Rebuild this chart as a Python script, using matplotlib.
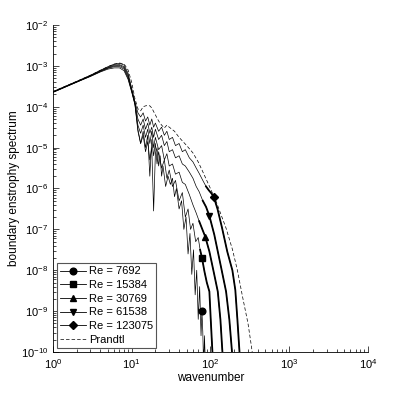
import matplotlib
matplotlib.use("Agg")
import matplotlib.pyplot as plt
from matplotlib.lines import Line2D

plt.rcParams['font.family'] = ['Liberation Sans', 'DejaVu Sans']
plt.rcParams['mathtext.fontset'] = 'custom'
plt.rcParams['mathtext.rm'] = 'Liberation Sans'

# boundary enstrophy spectra
k_7692 = [1, 2, 3, 4, 5, 6, 7, 8, 9, 10, 11, 12, 13, 14, 15, 16, 17, 18, 19, 20,
          21, 22, 23, 24, 25, 27, 29, 31, 33, 35, 37, 40, 43, 46, 49, 52, 55, 58,
          61, 64, 67, 70, 73, 76, 78, 80, 82, 84, 87]
E_7692 = [2.24e-4, 3.98e-4, 5.50e-4, 7.08e-4, 8.32e-4, 8.91e-4, 8.91e-4, 7.59e-4,
          4.68e-4, 2.29e-4, 1.12e-4, 2.51e-5, 1.26e-5, 2.0e-5, 7.94e-6, 1.41e-5,
          5.01e-6, 1.0e-5, 2.82e-7, 7.08e-6, 1.0e-5, 3.55e-6, 6.31e-6, 2.0e-6,
          3.55e-6, 1.12e-6, 2.0e-6, 1.26e-6, 1.78e-6, 6.31e-7, 1.0e-6, 3.16e-7,
          5.01e-7, 1.0e-7, 2.0e-7, 2.51e-8, 7.94e-8, 7.94e-9, 3.16e-8, 2.51e-9,
          1.0e-8, 6.31e-10, 3.98e-9, 2.51e-10, 1.02e-9, 3.16e-10, 3.98e-11,
          2.51e-10, 3.16e-11]

k_15384 = [1, 2, 3, 4, 5, 6, 7, 8, 9, 10, 11, 12, 13, 14, 15, 16, 17, 18, 19, 20,
           21, 22, 24, 26, 28, 30, 33, 36, 40, 44, 48, 52, 56, 60, 65, 70, 74, 78,
           84, 90, 97, 101, 106, 108]
E_15384 = [2.24e-4, 3.98e-4, 5.62e-4, 7.24e-4, 8.71e-4, 9.55e-4, 9.55e-4, 8.32e-4,
           5.01e-4, 2.40e-4, 1.17e-4, 2.82e-5, 1.26e-5, 2.51e-5, 1.0e-5, 2.0e-5,
           2.0e-6, 1.58e-5, 6.31e-6, 1.26e-5, 3.98e-6, 7.94e-6, 3.16e-6, 5.01e-6,
           1.78e-6, 2.82e-6, 1.12e-6, 1.58e-6, 5.01e-7, 7.94e-7, 2.0e-7, 3.16e-7,
           1.0e-7, 1.41e-7, 5.01e-8, 6.31e-8, 3.16e-8, 2.04e-8, 9.33e-9, 5.01e-9,
           3.02e-9, 6.17e-10, 1.0e-10, 3.98e-11]

k_30769 = [1, 2, 3, 4, 5, 6, 7, 8, 9, 10, 11, 12, 13, 14, 15, 16, 17, 18, 19, 20,
           22, 24, 26, 28, 30, 33, 36, 40, 44, 48, 54, 60, 66, 72, 79, 86, 97, 112,
           124, 134, 142, 145]
E_30769 = [2.29e-4, 4.07e-4, 5.62e-4, 7.41e-4, 8.91e-4, 1.0e-3, 1.02e-3, 8.91e-4,
           5.50e-4, 2.51e-4, 1.20e-4, 3.55e-5, 2.24e-5, 3.55e-5, 1.78e-5, 2.82e-5,
           1.26e-5, 2.51e-5, 1.0e-5, 1.78e-5, 8.91e-6, 1.12e-5, 5.01e-6, 7.08e-6,
           3.55e-6, 3.98e-6, 2.24e-6, 2.51e-6, 1.41e-6, 1.26e-6, 7.08e-7, 3.98e-7,
           2.51e-7, 1.58e-7, 1.0e-7, 6.61e-8, 2.88e-8, 7.76e-9, 3.02e-9, 6.17e-10,
           1.0e-10, 3.98e-11]

k_61538 = [1, 2, 3, 4, 5, 6, 7, 8, 9, 10, 11, 12, 13, 14, 15, 16, 17, 18, 19, 20,
           22, 24, 26, 28, 30, 33, 36, 40, 44, 48, 54, 60, 66, 72, 80, 88, 97, 112,
           137, 158, 174, 188, 192]
E_61538 = [2.29e-4, 4.07e-4, 5.75e-4, 7.59e-4, 9.12e-4, 1.05e-3, 1.07e-3, 9.55e-4,
           6.03e-4, 2.63e-4, 1.26e-4, 5.01e-5, 3.55e-5, 5.01e-5, 2.82e-5, 3.98e-5,
           2.24e-5, 3.16e-5, 1.78e-5, 2.82e-5, 1.58e-5, 2.0e-5, 1.12e-5, 1.41e-5,
           7.94e-6, 8.91e-6, 5.62e-6, 6.31e-6, 3.98e-6, 3.55e-6, 2.51e-6, 1.78e-6,
           1.12e-6, 8.32e-7, 5.01e-7, 3.55e-7, 2.14e-7, 7.41e-8, 1.15e-8, 3.02e-9,
           6.17e-10, 1.0e-10, 3.98e-11]

k_123075 = [1, 2, 3, 4, 5, 6, 7, 8, 9, 10, 11, 12, 13, 14, 15, 16, 17, 18, 19, 20,
            22, 24, 26, 28, 30, 33, 36, 40, 44, 48, 54, 60, 66, 72, 80, 88, 96, 103,
            110, 123, 140, 164, 190, 207, 220, 234, 240]
E_123075 = [2.34e-4, 4.17e-4, 5.89e-4, 7.76e-4, 9.55e-4, 1.10e-3, 1.15e-3, 1.05e-3,
            6.61e-4, 2.82e-4, 1.32e-4, 7.08e-5, 5.62e-5, 7.08e-5, 4.47e-5, 5.62e-5,
            3.55e-5, 5.01e-5, 3.16e-5, 3.98e-5, 2.51e-5, 3.16e-5, 2.0e-5, 2.51e-5,
            1.58e-5, 1.78e-5, 1.12e-5, 1.26e-5, 7.94e-6, 8.91e-6, 5.62e-6, 4.47e-6,
            3.16e-6, 2.34e-6, 1.58e-6, 1.12e-6, 8.91e-7, 7.59e-7, 6.31e-7, 3.16e-7,
            1.12e-7, 2.82e-8, 1.0e-8, 3.31e-9, 6.31e-10, 1.0e-10, 3.98e-11]

k_prandtl = [1, 2, 3, 4, 5, 6, 7, 8, 9, 10, 11, 12, 13, 14, 15, 16, 17, 18, 20, 22,
             24, 26, 28, 30, 35, 40, 50, 60, 70, 80, 100, 120, 140, 158, 191, 220,
             256, 300, 327, 345]
E_prandtl = [2.34e-4, 4.17e-4, 5.89e-4, 7.76e-4, 9.55e-4, 1.10e-3, 1.17e-3, 1.12e-3,
             7.94e-4, 3.98e-4, 1.58e-4, 8.91e-5, 7.94e-5, 1.0e-4, 1.05e-4, 1.07e-4,
             1.05e-4, 9.33e-5, 6.31e-5, 4.47e-5, 3.55e-5, 3.02e-5, 3.55e-5, 3.16e-5,
             2.51e-5, 1.78e-5, 1.12e-5, 7.41e-6, 4.47e-6, 2.57e-6, 1.0e-6, 4.47e-7,
             2.0e-7, 1.07e-7, 3.16e-8, 1.0e-8, 2.24e-9, 5.01e-10, 1.66e-10, 7.94e-11]

labels = ["Re = 7692", "Re = 15384", "Re = 30769", "Re = 61538", "Re = 123075"]
k_all = [k_7692, k_15384, k_30769, k_61538, k_123075]
E_all = [E_7692, E_15384, E_30769, E_61538, E_123075]
marker_k = [78, 78, 86, 97, 110]     # where the symbol sits on each curve
tail_k = [None, 74, 72, 80, 88]      # dense high-k part drawn heavier
markers = ['o', 's', '^', 'v', 'D']

fig = plt.figure(figsize=(4.07, 3.96), dpi=100)
ax = fig.add_axes([0.130, 0.111, 0.774, 0.826])

handles = []
for k, E, lab, mk, mkk, tk in zip(k_all, E_all, labels, markers, marker_k, tail_k):
    ax.plot(k, E, color='k', lw=0.5)
    if tk is not None:
        i0 = k.index(tk)
        ax.plot(k[i0:], E[i0:], color='k', lw=1.3)
    i = k.index(mkk)
    ms = 4.2 if mk == 'D' else 4.8
    ax.plot([k[i]], [E[i]], ls='none', marker=mk, color='k', ms=ms)
    handles.append(Line2D([], [], color='k', lw=0.6, marker=mk, ms=ms, label=lab))

ax.plot(k_prandtl, E_prandtl, color='k', lw=0.5, ls=(0, (5, 3)))
handles.append(Line2D([], [], color='k', lw=0.5, ls=(0, (5, 3)), label='Prandtl'))

ax.set_xscale('log')
ax.set_yscale('log')
ax.set_xlim(1, 1e4)
ax.set_ylim(1e-10, 1e-2)
ax.yaxis.set_major_locator(matplotlib.ticker.LogLocator(base=10, numticks=20))
ax.yaxis.set_minor_locator(matplotlib.ticker.LogLocator(base=10, subs=range(2, 10), numticks=20))
ax.spines['top'].set_visible(False)
ax.spines['right'].set_visible(False)
for s in ['left', 'bottom']:
    ax.spines[s].set_linewidth(0.6)
ax.tick_params(which='both', direction='in', labelsize=8, width=0.5)
ax.tick_params(which='major', length=4)
ax.tick_params(which='minor', length=2)
ax.set_xlabel('wavenumber', fontsize=8.5, labelpad=1)
ax.set_ylabel('boundary enstrophy spectrum', fontsize=8.5, labelpad=0.5)

leg = ax.legend(handles=handles, loc='lower left', bbox_to_anchor=(0.012, 0.012),
                borderaxespad=0, fontsize=8, handlelength=2.3, handletextpad=0.3,
                labelspacing=0.33, borderpad=0.3, fancybox=False, framealpha=1)
leg.get_frame().set_edgecolor('#555555')
leg.get_frame().set_linewidth(0.8)

fig.savefig('out.png', dpi=100)
